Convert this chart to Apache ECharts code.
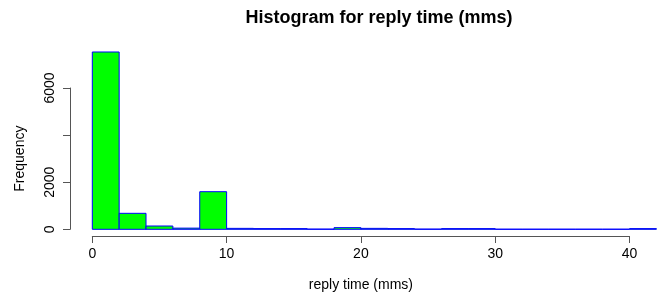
<!DOCTYPE html>
<html>
<head>
<meta charset="utf-8">
<script src="https://cdn.jsdelivr.net/npm/echarts@6/dist/echarts.min.js"></script>
<style>
  html, body { margin: 0; padding: 0; background: #fff; }
  #main { width: 667px; height: 293px; }
</style>
</head>
<body>
<div id="main"></div>
<script>
// histogram bins (mms), width 2
var binStarts = [0, 2, 4, 6, 8, 10, 12, 14, 16, 18, 20, 22, 24, 26, 28, 30, 32, 34, 36, 38, 40];
var binWidth = 2;
var counts = [7545, 680, 140, 50, 1600, 40, 30, 30, 10, 70, 40, 30, 10, 30, 30, 5, 5, 5, 5, 5, 30];
var xTicks = [0, 10, 20, 30, 40];
var yTicks = [0, 2000, 4000, 6000];
var yLabels = ['0', '2000', '', '6000']; // R drops the 4000 label

var chart = echarts.init(document.getElementById('main'));

var barData = [];
for (var i = 0; i < binStarts.length; i++) {
    barData.push([binStarts[i], binStarts[i] + binWidth, counts[i]]);
}

var axisColor = '#555';
var font = 'Liberation Sans, Arial, sans-serif';

var option = {
    animation: false,
    title: {
        text: 'Histogram for reply time (mms)',
        left: 374,
        top: 4,
        textAlign: 'center',
        textStyle: { fontFamily: font, fontSize: 18, fontWeight: 'bold', color: '#000' }
    },
    grid: [
        // data area
        { left: 92.3, width: 564.1, top: 41.3, height: 188 },
        // x axis display (0..40)
        { left: 92.3, width: 537.2, top: 200, height: 36.5 },
        // y axis display (0..6000)
        { left: 70, width: 10, top: 88, height: 141.3 }
    ],
    xAxis: [
        { gridIndex: 0, type: 'value', min: 0, max: 42, show: false },
        {
            gridIndex: 1, type: 'value', min: xTicks[0], max: xTicks[xTicks.length - 1], interval: 10,
            name: 'reply time (mms)', nameLocation: 'middle', nameGap: 42,
            nameTextStyle: { fontFamily: font, fontSize: 14, color: '#000' },
            axisLine: { show: true, lineStyle: { color: axisColor, width: 1 } },
            axisTick: { show: true, length: 7, lineStyle: { color: axisColor } },
            axisLabel: { margin: 11, fontFamily: font, fontSize: 14, color: '#000' },
            splitLine: { show: false }
        },
        { gridIndex: 2, type: 'value', show: false }
    ],
    yAxis: [
        { gridIndex: 0, type: 'value', min: 0, max: 8000, show: false },
        { gridIndex: 1, type: 'value', show: false },
        {
            gridIndex: 2, type: 'value', min: yTicks[0], max: yTicks[yTicks.length - 1], interval: 2000,
            position: 'left',
            name: 'Frequency', nameLocation: 'middle', nameGap: 43, nameRotate: 90,
            nameTextStyle: { fontFamily: font, fontSize: 14, color: '#000' },
            axisLine: { show: true, lineStyle: { color: axisColor, width: 1 } },
            axisTick: { show: true, length: 7, lineStyle: { color: axisColor } },
            axisLabel: {
                rotate: 90, margin: 13, fontFamily: font, fontSize: 14, color: '#000',
                formatter: function (v) {
                    var k = yTicks.indexOf(v);
                    return k >= 0 ? yLabels[k] : '';
                }
            },
            splitLine: { show: false }
        }
    ],
    series: [
        {
            type: 'custom',
            xAxisIndex: 0,
            yAxisIndex: 0,
            data: barData,
            renderItem: function (params, api) {
                var p0 = api.coord([api.value(0), api.value(2)]);
                var p1 = api.coord([api.value(1), 0]);
                return {
                    type: 'rect',
                    shape: { x: p0[0], y: p0[1], width: p1[0] - p0[0], height: p1[1] - p0[1] },
                    style: { fill: '#00ff00', stroke: '#0000ff', lineWidth: 1 }
                };
            }
        }
    ]
};

chart.setOption(option);
</script>
</body>
</html>
